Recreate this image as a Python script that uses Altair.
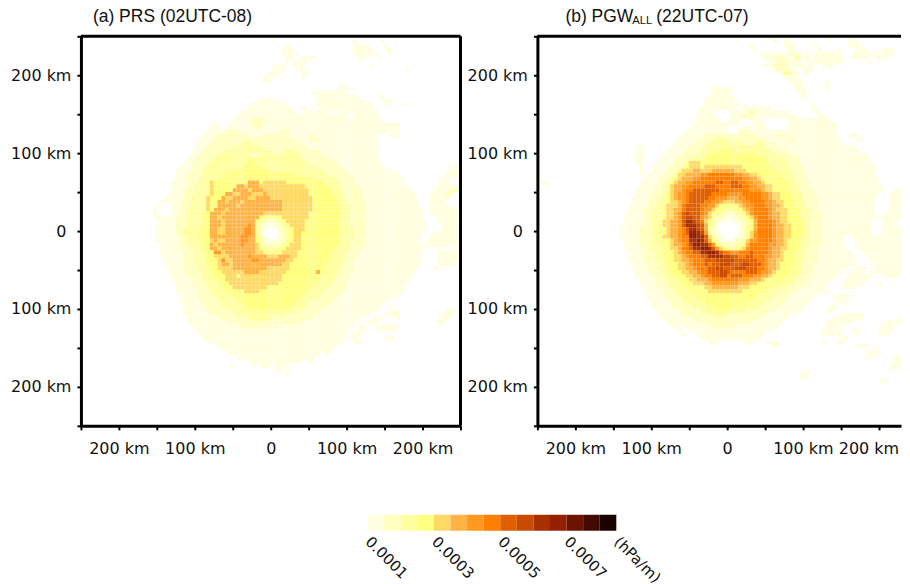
import re
import altair as alt
import pandas as pd

COLORS = ["#FFFFE0", "#FFFFC0", "#FFFFA0", "#FFFF80", "#FFD966", "#FFB347", "#FF9922", "#FF8000",
          "#E06000", "#C84C00", "#A83000", "#952000", "#6B1500", "#400C00", "#1A0400"]
BIN_LOWS = [0.0001, 0.00015, 0.0002, 0.00025, 0.0003, 0.00035, 0.0004, 0.00045,
            0.0005, 0.00055, 0.0006, 0.00065, 0.0007, 0.00075, 0.0008]
BAR_TICKS = [0.0001, 0.0003, 0.0005, 0.0007, 0.00085]
KM_TICKS = [-250, -200, -150, -100, -50, 0, 50, 100, 150, 200, 250]
LEVELS = "ABCDEFGHIJKLMNO"

# Each row runs top to bottom; "34E" means level E starts at column 34, "." is empty.
PRS_ROWS = [
"", "71A 73. 79A 80.", "54A 55. 72A 76. 80A 81.", "53A 56. 71A 77. 80A 82.", "53A 57. 72A 78. 81A 82.",
"54A 56. 58A 62. 73A 75. 78A 79.", "54A 55. 56A 60.", "51A 54. 56A 59. 76A 77.", "50A 54. 57A 59. 85A 86.", "49A 53. 58A 60.",
"48A 51. 58A 59.", "48A 50.", "68A 69.", "68A 72.", "61A 70.",
"62A 73. 78A 80.", "47A 52. 62A 75. 79A 82.", "45A 54. 62A 77. 80A 82. 85A 86.", "44A 56. 58A 60. 63A 77.", "42A 57. 59A 66. 68A 78.",
"41A 70. 72A 78.", "40A 45B 48A 79.", "35A 36. 39A 45B 48A 84.", "34A 37. 38A 46B 47A 84.", "33A 38B 42A 52B 55A 81. 82A 84.",
"32A 36B 44A 48B 54A 60B 62A 78. 81A 84.", "31A 35B 56A 60B 63A 78.", "30A 34B 42C 45B 58A 78.", "30A 33B 40C 47B 60A 78.", "29A 32B 38C 50B 54C 56B 63A 78.",
"29A 31B 36C 44B 48C 58B 64A 78.", "28A 30B 35C 58B 66A 78.", "27A 30B 34C 44D 46C 60B 67A 79.", "26A 29B 33C 43D 47C 62B 68A 80. 97A", "25A 29B 32C 40D 50C 64B 70A 82. 97A",
"25A 28B 32C 38D 56C 65B 71A 84. 96A", "25A 28B 31C 37D 62C 67B 72A 85. 95A 97. 98A", "24A 28B 31C 34E 35D 44F 47D 48E 54D 64C 68B 72A 85. 94A 97.", "24A 28B 30C 34E 35D 41F 43E 44F 47E 59D 65C 68B 73A 86. 94A",
"24A 27B 30C 34E 35D 40F 44E 45F 48E 60D 66C 69B 74A 87. 93A 97B",
"23A 27B 30C 34E 35D 38F 40E 42F 45E 48F 49E 60D 66C 69B 74A 88. 92A 96B 98.", "22A 27B 29C 33E 34D 37F 38E 40F 44E 46F 50E 61D 67C 69B 74A 88. 92A 97.", "21A 26B 29C 33E 34D 36F 38E 39F 42E 43F 53E 61D 67C 70B 75A 89. 92A 96.",
"19A 20. 24A 26B 29C 33E 34D 36F 41E 42F 53E 61D 68C 71B 75A 89. 92A 97.", "19A 20. 24A 26B 28C 33E 34D 35F 38E 39F 53E 61D 68C 71B 75A 90. 92A",
"19A 20. 24A 26B 28C 32D 34F 37E 38F 48E 60D 68C 71B 75A 90. 92A", "19A 24A 25B 28C 32D 34F 36E 37F 47D 49C 51D 53E 60D 68C 71B 75A 90. 94A",
"20A 25B 28C 32D 34F 37E 38F 46D 47C 48B 52C 53D 54E 59D 68C 71B 75A 91. 94A", "20A 25B 28C 32D 34F 37E 38F 44G 45F 46C 47B 48A 52B 53C 54D 55E 59D 68C 71B 75A 91. 95A",
"20A 25B 27C 31D 34F 36E 38F 43G 45F 46C 47B 48A 49. 51A 52B 54C 55D 56E 59D 68C 72B 75A 91. 95A", "20A 25B 27C 31D 34F 36E 38F 43G 45F 46C 47A 48. 52A 53B 54C 55D 56E 58D 68C 72B 75A 90. 93A",
"20A 26B 28C 31D 34F 42G 44F 46D 47B 48A 49. 52A 53B 54C 55D 56E 58D 68C 72B 75A 90. 92A", "20A 26B 28C 31D 34E 35F 36E 38F 42G 44F 46D 47C 48A 52B 54C 55D 56E 58D 68C 71B 75A 89. 91A",
"21A 26B 29C 32D 34F 35E 36F 42G 43F 46E 47C 48B 53C 54D 55E 58D 68C 71B 75A 90. 91A", "21A 26B 29C 32D 34F 36E 37F 46E 47D 48C 52D 54E 58D 67C 71B 74A 91.",
"21A 27B 30C 33D 35G 37E 38F 46E 48D 53E 57D 66C 70B 73A 90. 94A", "21A 27B 30C 33D 35E 39F 44G 45F 49E 52F 55E 57D 66C 70B 73A 90. 94A",
"22A 27B 30C 33D 36E 37G 38E 40F 45G 47F 54E 56D 65C 69B 72A 90. 94A", "22A 27B 30C 34D 36E 37F 39E 40F 53E 55D 65C 69B 72A 89. 94A 98.",
"23A 27B 31C 34D 36E 40F 49E 55D 64C 68B 72A 89. 93A 94.", "23A 28B 31C 35D 37E 43F 47E 54D 62F 63D 64C 68B 71A 88.",
"24A 28B 32C 35D 38E 41D 42E 53D 63C 67B 71A 87.", "24A 29B 32C 36D 38E 53D 63C 67B 71A 87.", "25A 29B 33C 37D 39E 52D 62C 66B 70A 86.",
"25A 30B 34C 37D 40E 49D 61C 65B 70A 85.", "25A 30B 34C 38D 43E 47D 60C 64B 69A 85.", "26A 31B 35C 39D 58C 63B 68A 84.",
"26A 31B 36C 41D 57C 62B 67A 82.", "26A 32B 37C 42D 56C 60B 66A 80.", "27A 33B 38C 44D 54C 59B 65A 79. 81A 82.",
"27A 34B 40C 56B 63A 78. 81A 84. 96A 99.", "27A 35B 41C 54B 62A 76. 80A 84. 95A 98.", "28A 37B 44C 50B 61A 74. 77A 80. 83A 84. 94A 97.",
"28A 39B 58A 72. 75A 78. 94A 96.", "29A 42B 50A 51B 52A 72. 73A 75. 78A 84.", "30A 70. 73A 75. 78A 83.",
"31A 70. 71A 74.", "32A 70. 71A 73. 80A 83.", "34A 69. 72A 74.", "36A 67.", "38A 66.", "39A 63. 64A 65.",
"41A 62.", "44A 58. 60A 61.", "39A 40. 45A 46. 47A 50. 51A 55.", "51A 53.", "53A 55.",
"", "", "", "", "", "", "", "", "", "", "", "", "",
]

PGW_ROWS = [
"61A 63. 65A 66. 71A 72. 76A 77. 82A 84.", "62A 63. 65A 67. 82A 85.", "56A 57. 65A 68. 73A 74. 82A 86.", "57A 58. 66A 68. 74A 75. 79A 80. 84A 87. 91A 94.",
"59A 67B 68A 70. 71A 80. 83A 94.", "59A 62B 65A 68C 69A 72. 73A 81. 83A 87. 89A 92.", "60A 63B 66A 70. 71A 81. 87A 88.", "60A 62B 66A 73. 75A 78.",
"62A 63B 66A 68. 70A 73.", "64A 65C 67A 69. 70A 72.", "65A 69.", "66A 70. 76A 77.", "67A 70. 76A 77.", "46A 51. 68A 71. 76A 77.",
"46A 51. 69A 71.", "45A 52. 69A 72.", "44A 52.", "44A 54. 72A 73.", "43A 52. 54A 62. 72A 74.", "42A 47. 51A 56C 57A 66. 73A 75.",
"42A 47. 51A 53B 57A 68. 74A 76.", "41A 48. 50A 53. 56A 59. 66A 77.", "41A 54. 57A 60. 66A 75B 76A 79.", "40A 50. 53A 60. 66A 79.", "39A 50. 53B 56A 79.",
"38A 44B 58A 62B 66A 79. 82A 85.", "37A 42B 47C 50B 60A 66B 68A 80. 84A 86.", "36A 41B 45C 54B 58C 60B 63A 81.",
"26A 28. 35A 40B 44C 54D 55C 60B 64A 84.", "26A 28. 34A 39B 43C 48D 52C 62B 66A 85.", "26A 28. 33A 38B 42C 46D 57C 63B 67A 87.", "26A 28. 32A 37B 40C 44D 60C 65B 69A 88.",
"26A 28. 31A 36B 39C 40E 43D 61C 66B 69A 88.", "27A 28. 30A 35B 38C 39D 40E 43D 44E 54D 62C 66B 70A 89.",
"27A 28. 30A 34B 37C 38E 41F 43E 46F 52E 55D 63C 67B 70A 90.", "27A 28. 29A 33B 36C 37E 39F 43G 45H 52G 54F 56E 58D 64C 67B 71A 89.",
"28A 32B 35C 36D 37E 38F 41G 43H 54G 56F 58E 59D 65C 68B 71A 90.", "1A 3. 27A 32B 34C 35D 36E 37F 39G 41H 47I 49H 51I 53H 55G 57F 59E 60D 66C 68B 72A 90.",
"2A 3. 27A 31B 33C 35E 36F 38G 40H 44I 47H 51I 54H 56G 58F 60E 62D 66C 69B 72A 91. 96A",
"26A 31B 33C 35E 36F 38G 39H 41I 48H 56G 59F 60E 62D 66C 69B 73A 91. 94A", "26A 30B 33C 34D 35E 36F 37G 39H 40I 46H 50G 54H 59G 61F 62E 64D 67C 70B 73A 90. 93A",
"25A 30B 32C 34D 35E 36F 37G 39H 40I 45H 47G 50F 53G 55H 59G 61F 62E 64D 67C 70B 74A 89. 93A",
"25A 29B 32C 34D 35E 37F 38G 39H 40I 44H 46G 48F 49E 52F 54G 56H 60G 62F 63E 65D 68C 71B 74A 89. 93A",
"24A 29B 31C 33D 34E 37F 38H 39I 43H 45G 47E 48D 53E 54F 55G 57H 60G 62F 64E 65D 68C 71B 74A 89. 93A",
"24A 28B 31C 33D 34E 36F 38H 39I 43H 44G 46E 47D 49C 52D 54E 55F 56G 57H 61G 62F 63E 66D 69C 72B 74A 89. 93A",
"23A 28B 30C 33D 34E 36F 37G 38I 39J 40I 43H 44G 45E 46D 48C 49B 52C 54D 55E 56G 57H 61G 62F 64E 66D 69C 72B 75A 89. 92A",
"23A 28B 30C 33D 34E 36F 37G 38I 39J 41I 43G 44F 45E 46C 47B 49A 52B 54C 55D 56E 57G 58H 61G 62F 64E 66D 69C 72B 75A",
"23A 28B 30C 32D 33E 35F 37G 38I 39K 41J 42I 43H 44E 45D 46C 47B 48A 50. 51A 53B 55C 56D 57F 58H 62G 63F 64E 66D 70C 72B 75A 88. 91A 95. 97A",
"22A 28B 30C 32D 33E 35F 37G 38I 39K 42J 43I 44F 45D 46B 47A 48. 53A 54B 55C 56D 57F 58H 62G 63F 65E 67D 70C 72B 75A 88. 91A 95. 97A",
"22A 23. 24A 27B 30C 32D 34E 35F 37G 38H 39I 40K 42J 43I 44F 45C 46B 47A 48. 53A 54B 55C 56D 57F 58H 62G 63F 65E 67D 70C 72B 75A 88. 91A",
"22A 27B 30C 32D 34E 35F 37G 38H 39I 40L 42K 43J 44G 45C 46B 47A 48. 53A 54B 55C 56E 57G 58H 62G 63F 65E 67D 70C 72B 75A 88. 91A",
"22A 27B 30C 32D 33E 35F 37G 38H 40L 42K 44I 45E 46C 47B 48A 49. 52A 54B 55C 56E 57G 58H 62G 63F 65E 67D 70C 72B 75A 81. 83A",
"23A 27B 30C 32D 35E 36F 37G 38H 40K 42L 43K 44I 45F 46D 47C 48A 52B 54C 55E 56G 58H 62G 63F 65E 66D 69C 72B 75A 81. 84A",
"23A 27B 30C 33D 35E 36F 38G 39H 40J 41L 43K 45I 46G 47D 48C 49B 52C 54D 55F 56H 61G 63F 65E 66D 69C 72B 75A 81. 84A",
"23A 28B 30C 33D 35E 37F 38H 40I 41K 43L 45K 46I 47G 48E 49D 51C 52D 54E 55G 56H 61G 62F 64E 66D 69C 71B 74A 82. 85A",
"24A 28B 31C 33D 36E 37F 38G 39H 41I 43K 45L 47K 48I 49H 51G 53H 56I 57H 61G 62F 64E 65D 68C 71B 74A 83. 86A",
"24A 28B 31C 33D 36E 38F 39G 40H 43I 45K 49J 51I 53H 55I 57H 60G 62F 64E 65D 68C 71B 74A 84. 87A",
"24A 28B 31C 34D 36E 38F 40G 41H 44I 47J 52I 58H 60G 61F 63E 65D 68C 71B 74A 84. 88A",
"25A 29B 32C 34D 37E 39F 40G 41H 44I 45H 46I 48J 51I 54J 56I 59H 60G 61F 63E 64D 68C 70B 74A 84. 88A",
"25A 29B 32C 35D 37E 39F 41G 42H 45I 47J 49I 52J 55I 58H 60G 61F 63E 64D 67C 70B 73A 82. 84A 87. 89A",
"26A 30B 33C 35D 38E 40F 42G 43H 45I 48J 50I 51H 55I 58H 59G 61F 62E 63D 67C 70B 73A 80. 83A 85. 88A",
"26A 30B 33C 36D 39E 41F 43G 44H 46I 48J 50H 51I 54H 57G 59F 61E 62D 66C 69B 73A 79. 82A 88. 91A 95. 97A",
"27A 31B 34C 37D 40E 42F 45G 46H 53G 56F 59E 60D 65C 68B 72A 78. 81A 87.", "27A 31B 35C 38D 41E 44F 46G 53F 56E 58D 64C 68B 72A 77. 80A 86. 90A 91.",
"28A 32B 35C 39D 44E 46F 53E 56D 62C 66B 70A 76. 80A 84.", "28A 33B 36C 40D 45E 54D 60C 64B 68A 77.", "29A 33B 37C 41D 58C 63B 67A 74. 78A 83.",
"29A 34B 38C 42D 57C 62B 66A 73. 78A 82.", "30A 35B 39C 44D 55C 60B 65A 72. 79A 81.", "30A 36B 41C 47D 52C 58B 64A 71. 77A 79.",
"31A 38B 43C 55B 62A 70. 76A 78.", "32A 38B 46C 50B 60A 67. 80A 86.", "33A 41B 58A 66. 78A 86. 95A 98.", "34A 42B 56A 65. 76A 83. 92A 97.",
"35A 37. 38A 46B 52A 64. 76A 80. 90A 94.", "37A 38. 40A 62. 75A 78. 79A 81. 83A 85. 90A 94.", "38A 39. 42A 60. 75A 80. 84A 85. 90A 93.", "43A 59. 80A 82.",
"45A 48. 54A 57. 60A 64. 75A 76. 79A 81.", "62A 64. 84A 87.", "88A 90.", "87A 90.", "87A 88. 94A 97.", "94A 97.", "93A 96.", "93A 95.", "69A 72.", "69A 72.", "90A 92.",
"", "", "", "", "", "", "", "", "", "", "",
]


def cells(rows):
    out = []
    for r, text in enumerate(rows):
        tokens = re.findall(r"(\d+)([.A-O])", text)
        for i, (start, level) in enumerate(tokens):
            if level == ".":
                continue
            end = int(tokens[i + 1][0]) if i + 1 < len(tokens) else 100
            for c in range(int(start), end):
                out.append({"x": -250 + c * 5, "x2": -245 + c * 5,
                            "y": 250 - r * 5, "y2": 245 - r * 5,
                            "bin": LEVELS.index(level)})
    return pd.DataFrame(out)


color = alt.Color("bin:O", scale=alt.Scale(domain=list(range(15)), range=COLORS), legend=None)
font = "DejaVu Sans"
PANEL_H = 390
NB = "\u00a0"
ZW = "\u200b"  # keeps the trailing non-breaking spaces from being trimmed


def panel(rows, width, xmax, titles, has_right, last_pad):
    km = "abs(datum.value)+' km'"
    x_expr = ("datum.value==0?'0':(datum.value==200?" + km + "+'" + last_pad + "':"
              "(abs(datum.value)%100==0?" + km + ":''))")
    y_expr = "datum.value==0?'0" + NB + ZW + "':(abs(datum.value)%100==0?" + km + ":'')"
    xs = alt.Scale(domain=[-250, xmax], nice=False, zero=False)
    ys = alt.Scale(domain=[-250, 250], nice=False, zero=False)
    common = dict(grid=False, title=None, labelFont=font, labelFontSize=16, labelColor="#111",
                  tickColor="black", tickWidth=2, tickSize=4, domainColor="black", domainWidth=3,
                  labelOverlap=False, labelFlush=False)
    heat = alt.Chart(cells(rows)).mark_rect(clip=True).encode(
        x=alt.X("x:Q", scale=xs, axis=alt.Axis(values=[v for v in KM_TICKS if v <= xmax], labelExpr=x_expr,
                                               labelPadding=11, **common)),
        x2="x2:Q",
        y=alt.Y("y:Q", scale=ys, axis=alt.Axis(values=KM_TICKS, labelExpr=y_expr, labelPadding=6, **common)),
        y2="y2:Q",
        color=color,
    )
    rule = alt.Chart(pd.DataFrame({"v": [0]})).mark_rule(color="black", strokeWidth=3)
    layers = [heat, rule.encode(x=alt.value(0), x2=alt.value(width), y=alt.value(0))]
    if has_right:
        layers.append(rule.encode(x=alt.value(width), y=alt.value(0), y2=alt.value(PANEL_H)))
    for text, px, py, size in titles:
        layers.append(alt.Chart(pd.DataFrame({"t": [text]})).mark_text(
            font="Liberation Sans", fontSize=size, align="left", baseline="alphabetic", color="#111").encode(
            text="t:N", x=alt.value(px), y=alt.value(py)))
    return alt.layer(*layers).properties(width=width, height=PANEL_H)


panel_a = panel(PRS_ROWS, 380, 250, [("(a) PRS (02UTC-08)", 12, -14, 17.5)], True, "")
panel_b = panel(PGW_ROWS, 364, 229.5,
                [("(b) PGW", 28, -14, 17.5), ("ALL", 95, -12, 11.2), ("(22UTC-07)", 119, -14, 17.5)],
                False, NB * 4 + ZW)

bar_df = pd.DataFrame({"lo": BIN_LOWS, "hi": BIN_LOWS[1:] + [0.00085], "bin": list(range(15))})
bar = alt.Chart(bar_df).mark_rect().encode(
    x=alt.X("lo:Q", scale=alt.Scale(domain=[0.0001, 0.00085], nice=False, zero=False),
            axis=alt.Axis(values=BAR_TICKS, title=None, grid=False, domain=False, ticks=False,
                          labelAngle=45, labelAlign="left", labelBaseline="middle", labelPadding=8,
                          labelFont=font, labelFontSize=15, labelColor="#111", labelOverlap=False,
                          labelFlush=False, labelBound=False,
                          labelExpr="datum.value>0.0008?'(hPa/m)':format(datum.value,'.4f')")),
    x2="hi:Q",
    color=color,
).properties(width=249, height=16)

spacer = alt.Chart(pd.DataFrame({"a": [0]})).mark_point(opacity=0).encode(
    x=alt.X("a:Q", axis=None), y=alt.Y("a:Q", axis=None)).properties(width=281, height=16)

chart = alt.vconcat(
    alt.hconcat(panel_a, panel_b, spacing=4),
    alt.hconcat(spacer, bar, spacing=0),
    spacing=58,
).properties(padding={"left": 2, "right": -18, "top": 0, "bottom": 0}
).configure_view(stroke=None).configure_concat(spacing=0)

chart.save("out.html", embed_options={"renderer": "svg", "actions": False})
